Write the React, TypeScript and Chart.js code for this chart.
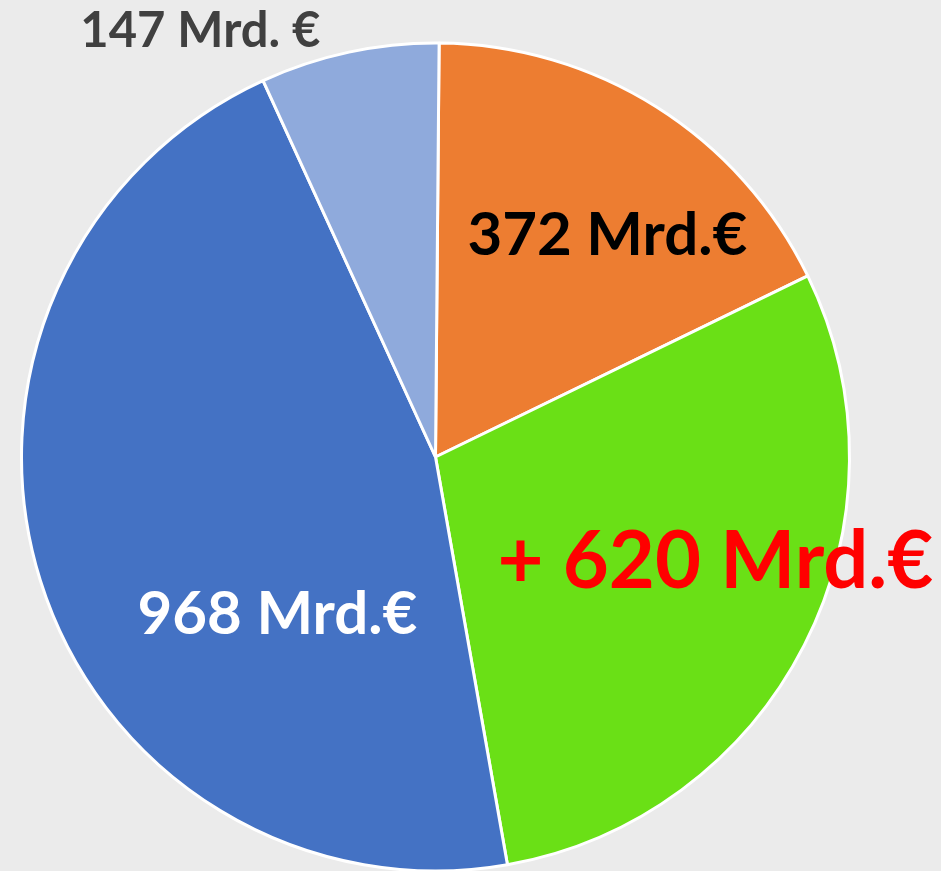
import React, { useEffect, useRef } from "react";
import { Chart, registerables } from "chart.js";

Chart.register(...registerables);

const categories = ["372 Mrd.€", "+ 620 Mrd.€", "968 Mrd.€", "147 Mrd. €"];
const values = [372, 620, 968, 147];
const sliceColors = ["#ED7D31", "#6AE016", "#4472C4", "#8FAADC"];
const labelColors = ["#000000", "#FF0000", "#FFFFFF", "#404040"];

// label placement relative to pie centre, in units of radius (x centre, baseline y), and target text width in radius units
const labelLayout = [
  { x: 0.415, y: -0.488, w: 0.676 },
  { x: 0.676, y: 0.316, w: 1.053 },
  { x: -0.382, y: 0.427, w: 0.676 },
  { x: -0.568, y: -0.990, w: 0.58 },
];

const labelPlugin = {
  id: "sliceLabels",
  afterDatasetsDraw(chart: any) {
    const meta = chart.getDatasetMeta(0);
    const arc = meta.data[0];
    if (!arc) return;
    const cx = arc.x;
    const cy = arc.y;
    const r = arc.outerRadius;
    const ctx = chart.ctx;
    ctx.save();
    categories.forEach((text, i) => {
      const lay = labelLayout[i];
      const target = lay.w * r;
      ctx.font = `bold 100px Lato, "Open Sans", sans-serif`;
      const w100 = ctx.measureText(text).width;
      const size = (100 * target) / w100;
      ctx.font = `bold ${size}px Lato, "Open Sans", sans-serif`;
      ctx.fillStyle = labelColors[i];
      ctx.textAlign = "center";
      ctx.textBaseline = "alphabetic";
      ctx.fillText(text, cx + lay.x * r, cy + lay.y * r);
    });
    ctx.restore();
  },
};

export default function App() {
  const ref = useRef<HTMLCanvasElement>(null);
  useEffect(() => {
    document.body.style.margin = "0";
    document.body.style.background = "#EBEBEB";
    const chart = new Chart(ref.current!, {
      type: "pie",
      data: {
        labels: categories,
        datasets: [
          {
            data: values,
            backgroundColor: sliceColors,
            borderColor: "#FFFFFF",
            borderWidth: 3,
          },
        ],
      },
      options: {
        responsive: false,
        animation: false,
        rotation: 0.5,
        radius: 414,
        layout: { padding: { left: 0, right: 70, top: 43, bottom: 0 } },
        plugins: {
          legend: { display: false },
          tooltip: { enabled: false },
        },
      } as any,
      plugins: [labelPlugin],
    });
    return () => chart.destroy();
  }, []);
  return (
    <div style={{ width: 941, height: 871, background: "#EBEBEB" }}>
      <canvas ref={ref} width={941} height={871} style={{ display: "block" }} />
    </div>
  );
}
